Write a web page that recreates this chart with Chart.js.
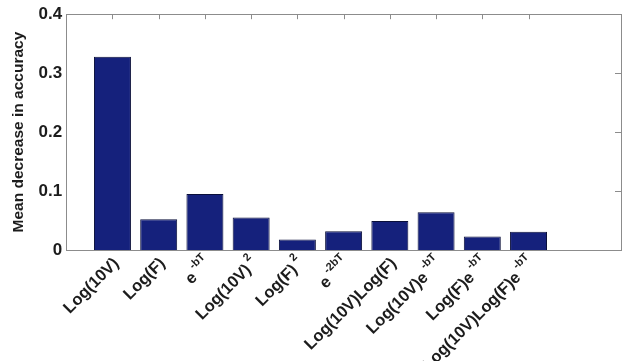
<!DOCTYPE html>
<html><head><meta charset="utf-8">
<script src="https://cdn.jsdelivr.net/npm/chart.js@4/dist/chart.umd.min.js"></script>
<style>html,body{margin:0;padding:0;background:#fff}#wrap{width:632px;height:361px;position:relative}</style>
</head><body><div id="wrap"><canvas id="c"></canvas></div>
<script>
// bar positions on the x axis (matlab-style, xlim 0..12)
const positions = [1, 2, 3, 4, 5, 6, 7, 8, 9, 10];
const values = [0.328, 0.052, 0.095, 0.055, 0.018, 0.032, 0.049, 0.064, 0.023, 0.031];
// tick labels: base text + superscript part
const labelBase = ['Log(10V)', 'Log(F)', 'e', 'Log(10V)', 'Log(F)', 'e', 'Log(10V)Log(F)', 'Log(10V)e', 'Log(F)e', 'Log(10V)Log(F)e'];
const labelSup = ['', '', '-bT', '2', '2', '-2bT', '', '-bT', '-bT', '-bT'];
const yTicks = [0, 0.1, 0.2, 0.3, 0.4];
const xRange = [0, 12];

const FONT = "'Liberation Sans', Arial, sans-serif";
const TXT = '#1c1c1c';

const frame = {
  id: 'frame',
  beforeDatasetsDraw(chart) {
    const {ctx, chartArea: a, scales: {x, y}} = chart;
    ctx.save();
    ctx.strokeStyle = '#8c8c8c';
    ctx.lineWidth = 1;
    ctx.strokeRect(Math.round(a.left) + 0.5, Math.round(a.top) + 0.5,
      Math.round(a.right - a.left), Math.round(a.bottom - a.top));
    ctx.beginPath();
    positions.forEach(p => {
      const px = Math.round(x.getPixelForValue(p)) + 0.5;
      ctx.moveTo(px, a.top); ctx.lineTo(px, a.top + 5);
      ctx.moveTo(px, a.bottom); ctx.lineTo(px, a.bottom - 5);
    });
    yTicks.slice(1, -1).forEach(v => {
      const py = Math.round(y.getPixelForValue(v)) + 0.5;
      ctx.moveTo(a.right, py); ctx.lineTo(a.right - 6, py);
    });
    ctx.stroke();
    ctx.restore();
  },
  afterDraw(chart) {
    const {ctx, chartArea: a, scales: {x}} = chart;
    ctx.save();
    ctx.fillStyle = TXT;
    ctx.textBaseline = 'middle';
    positions.forEach((p, i) => {
      const px = x.getPixelForValue(p);
      ctx.save();
      ctx.translate(px + 4, a.bottom + 11);
      ctx.rotate(-Math.PI / 4);
      ctx.font = 'bold 16.5px ' + FONT;
      const wb = ctx.measureText(labelBase[i]).width;
      ctx.font = 'bold 11px ' + FONT;
      const ws = labelSup[i] ? ctx.measureText(labelSup[i]).width + 3 : 0;
      ctx.font = 'bold 16.5px ' + FONT;
      ctx.textAlign = 'left';
      ctx.fillText(labelBase[i], -(wb + ws), 0);
      if (labelSup[i]) {
        ctx.font = 'bold 11px ' + FONT;
        ctx.fillText(labelSup[i], -ws + 3, -8);
      }
      ctx.restore();
    });
    ctx.restore();
  }
};

new Chart(document.getElementById('c'), {
  type: 'bar',
  data: {
    datasets: [{
      data: positions.map((p, i) => ({x: p, y: values[i]})),
      backgroundColor: '#15217c',
      borderColor: '#0a0f3a',
      borderWidth: 1,
      barPercentage: 0.8,
      categoryPercentage: 1
    }]
  },
  options: {
    responsive: true,
    maintainAspectRatio: false,
    animation: false,
    layout: {padding: {left: 9, top: 11, right: 11, bottom: 111}},
    plugins: {legend: {display: false}, tooltip: {enabled: false}},
    scales: {
      x: {type: 'linear', min: xRange[0], max: xRange[1], display: false, offset: false},
      y: {
        min: yTicks[0], max: yTicks[yTicks.length - 1],
        afterBuildTicks: s => { s.ticks = yTicks.map(v => ({value: v})); },
        ticks: {font: {family: FONT, size: 17, weight: 'bold'}, color: TXT, padding: 4,
          callback: v => String(+v.toFixed(1))},
        grid: {display: false, drawTicks: false},
        border: {display: false},
        title: {display: true, text: 'Mean decrease in accuracy', color: TXT,
          font: {family: FONT, size: 15.5, weight: 'bold'}, padding: {top: 0, bottom: 7}}
      }
    }
  },
  plugins: [frame]
});
</script>
</body></html>
